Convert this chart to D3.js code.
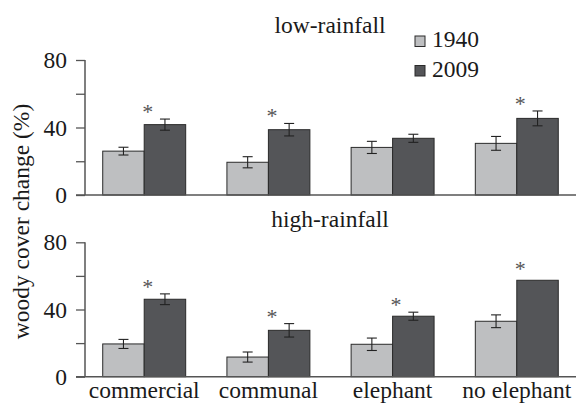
<!DOCTYPE html>
<html>
<head>
<meta charset="utf-8">
<script src="https://cdn.jsdelivr.net/npm/d3@7"></script>
<style>
  html, body { margin: 0; padding: 0; background: #fff; }
  svg { display: block; }
  text { font-family: "Liberation Serif", "Times New Roman", serif; fill: #1a1a1a; }
</style>
</head>
<body>
<svg id="chart" width="583" height="406"></svg>
<script>
// Woody cover change by land use, 1940 vs 2009, in two rainfall zones
const categories = ["commercial", "communal", "elephant", "no elephant"];
const years = ["1940", "2009"];
const yTicks = [0, 20, 40, 60, 80];
const tickLabels = ["0", "", "40", "", "80"];

const lowRain1940 = [26, 19.4, 28.2, 30.6];
const lowRain1940Err = [2.3, 3.3, 3.6, 4.1];
const lowRain2009 = [41.7, 38.7, 33.6, 45.4];
const lowRain2009Err = [3.3, 3.7, 2.4, 4.4];
const lowRainSig = [true, true, false, true];

const highRain1940 = [19.5, 11.7, 19.3, 33];
const highRain1940Err = [2.7, 3, 3.7, 3.8];
const highRain2009 = [46.1, 27.6, 36, 57.4];
const highRain2009Err = [3.2, 4, 2.4, 0];
const highRainSig = [true, true, true, true];

const panels = [
  { title: "low-rainfall", v1940: lowRain1940, e1940: lowRain1940Err, v2009: lowRain2009, e2009: lowRain2009Err, sig: lowRainSig },
  { title: "high-rainfall", v1940: highRain1940, e1940: highRain1940Err, v2009: highRain2009, e2009: highRain2009Err, sig: highRainSig }
];

const colors = { "1940": "#bebfc1", "2009": "#545558" };
const FONT = 23.5;

const svg = d3.select("#chart");

const xLeft = 85, xRight = 576;
const x = d3.scaleBand().domain(categories).range([xLeft, xRight])
  .paddingInner(0.332).paddingOuter(0.1427);
const xs = d3.scaleBand().domain(years).range([0, x.bandwidth()]);

const panelBoxes = [
  { top: 60, bottom: 195, titleY: 33 },
  { top: 242.3, bottom: 376.7, titleY: 227 }
];

panels.forEach((p, i) => {
  const box = panelBoxes[i];
  const y = d3.scaleLinear().domain([0, 80]).range([box.bottom, box.top]);
  const g = svg.append("g");

  // title
  g.append("text").attr("x", 330).attr("y", box.titleY)
    .attr("text-anchor", "middle").attr("font-size", FONT).text(p.title);

  // bars
  const rows = categories.map((c, k) => ({
    cat: c,
    bars: [
      { year: "1940", v: p.v1940[k], e: p.e1940[k] },
      { year: "2009", v: p.v2009[k], e: p.e2009[k] }
    ],
    sig: p.sig[k]
  }));

  const grp = g.selectAll("g.cat").data(rows).join("g")
    .attr("class", "cat")
    .attr("transform", d => `translate(${x(d.cat)},0)`);

  grp.selectAll("rect").data(d => d.bars).join("rect")
    .attr("x", d => xs(d.year))
    .attr("y", d => y(d.v))
    .attr("width", xs.bandwidth())
    .attr("height", d => y(0) - y(d.v))
    .attr("fill", d => colors[d.year])
    .attr("stroke", "#2a2a2a")
    .attr("stroke-width", 1);

  // error bars
  const eb = grp.selectAll("g.err").data(d => d.bars.filter(b => b.e > 0)).join("g")
    .attr("class", "err")
    .attr("stroke", "#222").attr("stroke-width", 1.1);
  eb.append("line")
    .attr("x1", d => xs(d.year) + xs.bandwidth() / 2)
    .attr("x2", d => xs(d.year) + xs.bandwidth() / 2)
    .attr("y1", d => y(d.v + d.e)).attr("y2", d => y(d.v - d.e));
  [1, -1].forEach(s => {
    eb.append("line")
      .attr("x1", d => xs(d.year) + xs.bandwidth() / 2 - 5)
      .attr("x2", d => xs(d.year) + xs.bandwidth() / 2 + 5)
      .attr("y1", d => y(d.v + s * d.e)).attr("y2", d => y(d.v + s * d.e));
  });

  // significance markers over the 2009 bars
  grp.filter(d => d.sig).append("text")
    .attr("x", xs("2009") + 3.5)
    .attr("y", d => {
      const b = d.bars[1];
      const top = y(b.v + b.e);
      return top - (b.e > 0 ? 11 : 15) + 11;
    })
    .attr("text-anchor", "middle")
    .attr("font-size", 22)
    .style("fill", "#555")
    .text("*");

  // y axis
  const axis = d3.axisLeft(y).tickValues(yTicks)
    .tickFormat((d, k) => tickLabels[k]).tickSize(9).tickPadding(9);
  const ag = g.append("g").attr("transform", `translate(${xLeft},0)`).call(axis);
  ag.select(".domain").attr("stroke", "#555").attr("stroke-width", 1.5)
    .attr("d", `M0,${y(80)}V${y(0)}`);
  ag.selectAll(".tick line").attr("stroke", "#555").attr("stroke-width", 1.3);
  ag.selectAll(".tick text")
    .attr("font-family", "Liberation Serif, Times New Roman, serif")
    .attr("font-size", FONT).attr("fill", "#1a1a1a");

  // baseline
  g.append("line").attr("x1", xLeft - 9).attr("x2", xRight)
    .attr("y1", y(0)).attr("y2", y(0))
    .attr("stroke", "#555").attr("stroke-width", 1.5);

  // category labels under the bottom panel
  if (i === panels.length - 1) {
    g.selectAll("text.cl").data(categories).join("text")
      .attr("class", "cl")
      .attr("x", d => x(d) + x.bandwidth() / 2)
      .attr("y", 398)
      .attr("text-anchor", "middle")
      .attr("font-size", FONT)
      .text(d => d);
  }
});

// legend
const legend = svg.append("g");
years.forEach((yr, k) => {
  const ly = 36 + k * 29.5;
  legend.append("rect").attr("x", 415).attr("y", ly).attr("width", 10).attr("height", 10.5)
    .attr("fill", colors[yr]).attr("stroke", "#2a2a2a").attr("stroke-width", 1);
  legend.append("text").attr("x", 432).attr("y", ly + 11)
    .attr("font-size", FONT).text(yr);
});

// y-axis title
svg.append("text")
  .attr("transform", "translate(29,221.5) rotate(-90)")
  .attr("text-anchor", "middle")
  .attr("font-size", FONT)
  .text("woody cover change (%)");
</script>
</body>
</html>
